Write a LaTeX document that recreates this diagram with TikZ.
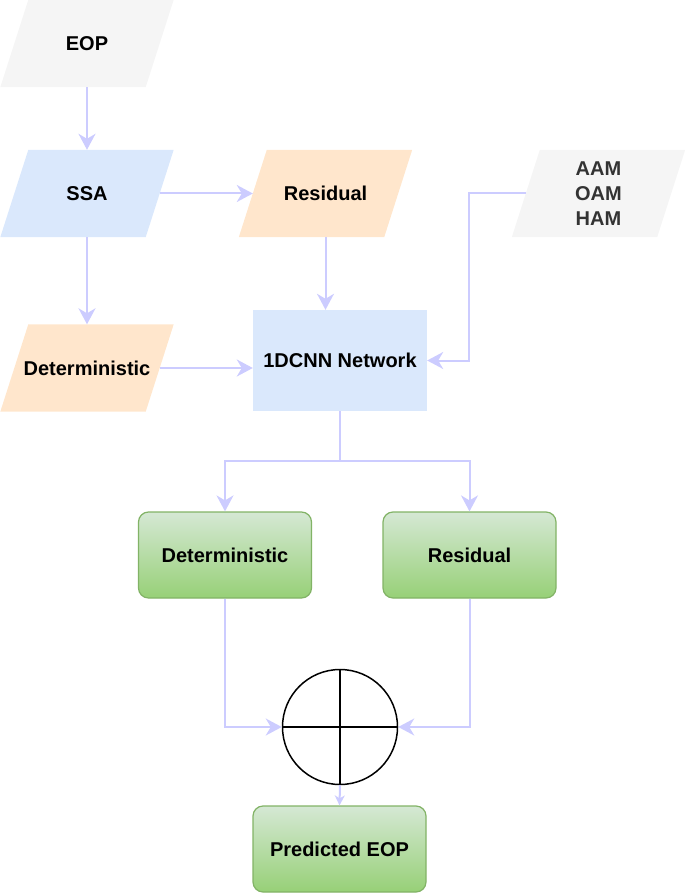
\documentclass[tikz,border=0pt]{standalone}
\usepackage{fontspec}
\setmainfont{Liberation Sans}
\usetikzlibrary{arrows.meta,backgrounds,calc}
\definecolor{arr}{HTML}{CCCCFF}
\definecolor{grayfill}{HTML}{F5F5F5}
\definecolor{bluefill}{HTML}{DAE8FC}
\definecolor{orangefill}{HTML}{FFE6CC}
\definecolor{gtop}{HTML}{D5E8D4}
\definecolor{gbot}{HTML}{97D077}
\definecolor{gborder}{HTML}{82B366}
\definecolor{darktext}{HTML}{333333}
\begin{document}
\begin{tikzpicture}[x=1pt,y=-1pt,
  lbl/.style={font=\fontsize{20}{25}\selectfont\bfseries},
  para/.style={lbl,minimum width=145pt,minimum height=87pt,inner sep=0pt,text=black},
  gbox/.style={lbl,rounded corners=10pt,draw=gborder,line width=1.2pt,top color=gtop,bottom color=gbot,minimum width=173pt,minimum height=86pt,inner sep=0pt},
  conn/.style={draw=arr,line width=2pt,-{Stealth[length=16pt,width=17pt,inset=5pt]}}
]
\useasboundingbox (0,0) rectangle (685,893);

% parallelogram nodes (midline width)
\node[para] (eop) at (87,43.5) {EOP};
\node[para] (ssa) at (87,193.5) {SSA};
\node[para] (res) at (325.5,193.5) {Residual};
\node[para] (det) at (87,368) {Deterministic};
\node[para,text=darktext,align=center] (aam) at (598.5,193.5) {AAM\\OAM\\HAM};

\begin{scope}[on background layer]
  \foreach \n/\c in {eop/grayfill,ssa/bluefill,res/orangefill,det/orangefill,aam/grayfill}{
    \fill[\c] ($(\n.north west)+(14,0)$) -- ($(\n.north east)+(14,0)$)
      -- ($(\n.south east)+(-14,0)$) -- ($(\n.south west)+(-14,0)$) -- cycle;
  }
\end{scope}

\node[lbl,fill=bluefill,minimum width=174pt,minimum height=101pt,inner sep=0pt] (cnn) at (340,360.5) {1DCNN Network};

\node[gbox] (gdet) at (225,555) {Deterministic};
\node[gbox] (gres) at (469.5,555) {Residual};

\node[circle,draw=black,line width=1.5pt,minimum size=115pt,inner sep=0pt] (sum) at (340,727) {};
\draw[line width=1.5pt] (sum.north) -- (sum.south);
\draw[line width=1.5pt] (sum.west) -- (sum.east);

\node[gbox,minimum width=173pt] (pred) at (339.5,849) {Predicted EOP};

\coordinate (split) at (340,461);
\coordinate (aamturn) at (469,193.5);

\draw[conn] (eop.south) -- (ssa.north);
\draw[conn] (ssa.east) -- (res.west);
\draw[conn] (ssa.south) -- (det.north);
\draw[conn] (res.south) -- (res.south |- cnn.north);
\draw[conn] (det.east) -- (det.east -| cnn.west);
\draw[conn] (aam.west) -- (aamturn) |- (cnn.east);
\draw[conn] (cnn.south) -- (split) -| (gdet.north);
\draw[conn] (split) -| (gres.north);
\draw[conn] (gdet.south) |- (sum.west);
\draw[conn] (gres.south) |- (sum.east);
\draw[draw=arr,line width=2pt,-{Stealth[length=10pt,width=10pt,inset=3pt]}] (sum.south) -- (pred.north);
\end{tikzpicture}
\end{document}
